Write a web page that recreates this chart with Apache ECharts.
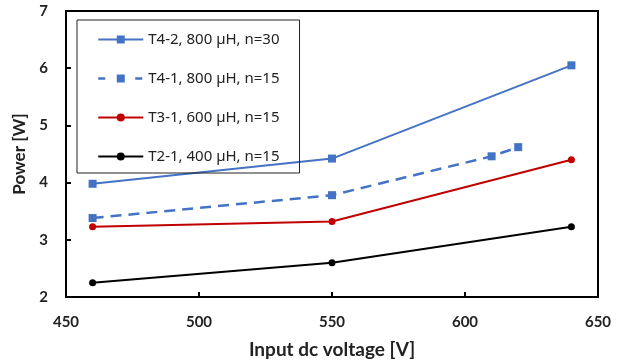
<!DOCTYPE html>
<html><head><meta charset="utf-8">
<script src="https://cdn.jsdelivr.net/npm/echarts@6/dist/echarts.min.js"></script>
<style>html,body{margin:0;padding:0;background:#fff}#c{width:624px;height:364px}</style>
</head><body><div id="c"></div>
<script>
const xTicks = [450, 500, 550, 600, 650];
const yTicks = [2, 3, 4, 5, 6, 7];
const namesList = ['T4-2, 800 µH, n=30', 'T4-1, 800 µH, n=15', 'T3-1, 600 µH, n=15', 'T2-1, 400 µH, n=15'];
const t42 = [[460, 3.98], [550, 4.42], [640, 6.05]];
const t41 = [[460, 3.38], [550, 3.78], [610, 4.46], [620, 4.62]];
const t31 = [[460, 3.23], [550, 3.32], [640, 4.40]];
const t21 = [[460, 2.25], [550, 2.60], [640, 3.23]];

const chart = echarts.init(document.getElementById('c'));
const font = 'Lato, "Open Sans", sans-serif';
function s(name, data, color, symbol, size, dash) {
  return {
    name, type: 'line', data, symbol, symbolSize: size,
    lineStyle: { color, width: dash ? 2.5 : 2, type: dash ? [11, 7] : 'solid' },
    itemStyle: { color }, animation: false
  };
}
chart.setOption({
  animation: false,
  grid: { left: 66, right: 26, top: 11, bottom: 66, show: true, borderColor: '#000', borderWidth: 2 },
  xAxis: {
    type: 'value', min: xTicks[0], max: xTicks[xTicks.length - 1], interval: 50,
    name: 'Input dc voltage [V]', nameLocation: 'middle', nameGap: 43,
    nameTextStyle: { fontFamily: font, fontWeight: 'bold', fontSize: 19, color: '#222' },
    axisLine: { lineStyle: { color: '#000', width: 2 } },
    axisTick: { inside: true, length: 5, lineStyle: { color: '#000', width: 2 } },
    axisLabel: { fontFamily: font, fontWeight: 'bold', fontSize: 15, color: '#222', margin: 18 },
    splitLine: { show: false }
  },
  yAxis: {
    type: 'value', min: yTicks[0], max: yTicks[yTicks.length - 1], interval: 1,
    name: 'Power [W]', nameLocation: 'middle', nameGap: 32,
    nameTextStyle: { fontFamily: font, fontWeight: 'bold', fontSize: 17, color: '#222' },
    axisLine: { lineStyle: { color: '#000', width: 2 } },
    axisTick: { inside: true, length: 5, lineStyle: { color: '#000', width: 2 } },
    axisLabel: { fontFamily: font, fontWeight: 'bold', fontSize: 15, color: '#222', margin: 18 },
    splitLine: { show: false }
  },
  legend: {
    orient: 'vertical', left: 77, top: 20,
    data: [
      { name: namesList[0] },
      { name: namesList[1], lineStyle: { type: [7, 30], width: 2.5 } },
      { name: namesList[2] },
      { name: namesList[3] }
    ],
    itemWidth: 45, itemHeight: 10, itemGap: 24,
    padding: [12, 20, 9, 20],
    borderColor: '#222', borderWidth: 1,
    textStyle: { fontFamily: '"Noto Sans", sans-serif', fontSize: 15, color: '#222' }
  },
  series: [
    s(namesList[0], t42, '#4472C4', 'rect', 8, false),
    s(namesList[1], t41, '#4472C4', 'rect', 8, true),
    s(namesList[2], t31, '#C00000', 'circle', 7, false),
    s(namesList[3], t21, '#000000', 'circle', 7, false)
  ]
});
</script></body></html>
